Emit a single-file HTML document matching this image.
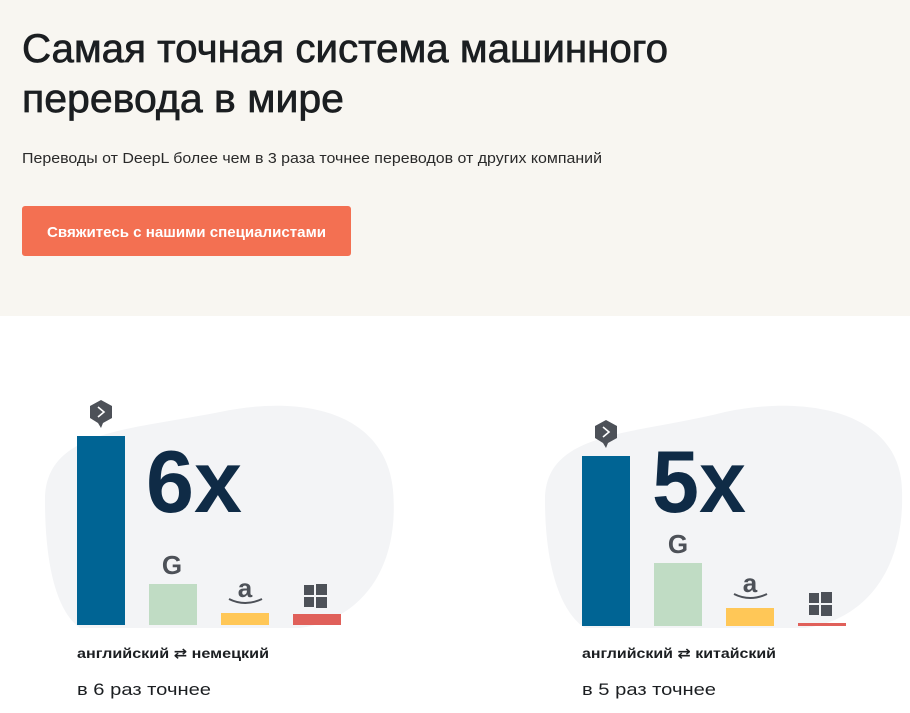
<!DOCTYPE html>
<html><head><meta charset="utf-8"><style>
html,body{margin:0;padding:0;width:910px;height:713px;overflow:hidden;background:#fff}
svg{display:block}
text{font-family:"Liberation Sans","DejaVu Sans",sans-serif}
</style></head><body>
<svg width="910" height="713" viewBox="0 0 910 713" xmlns="http://www.w3.org/2000/svg">
<rect x="0" y="0" width="910" height="316" fill="#f8f6f1"/>
<text x="22" y="62" font-size="40" fill="#1b1e21" stroke="#1b1e21" stroke-width="0.7" textLength="646" lengthAdjust="spacingAndGlyphs">Самая точная система машинного</text>
<text x="22" y="112" font-size="40" fill="#1b1e21" stroke="#1b1e21" stroke-width="0.7" textLength="322" lengthAdjust="spacingAndGlyphs">перевода в мире</text>
<text x="22" y="163" font-size="15" fill="#2a2a2a" textLength="580" lengthAdjust="spacingAndGlyphs">Переводы от DeepL более чем в 3 раза точнее переводов от других компаний</text>
<rect x="22" y="206" width="329" height="50" rx="3" fill="#f37052"/>
<text x="47" y="237" font-size="15" font-weight="bold" fill="#fff" textLength="279" lengthAdjust="spacingAndGlyphs">Свяжитесь с нашими специалистами</text>

<!-- chart 1 -->
<path d="M45 500 C45 430 130 430 220 412 C300 395 385 410 393 490 C400 570 360 620 300 628 L80 628 C55 610 45 560 45 500Z" fill="#f3f4f6"/>
<rect x="77" y="436" width="48" height="189" fill="#006494"/>
<rect x="149" y="584" width="48" height="41" fill="#c0dcc4"/>
<rect x="221" y="613" width="48" height="12" fill="#ffc757"/>
<rect x="293" y="614" width="48" height="11" fill="#e0605a"/>
<g transform="translate(101,412)">
<path d="M0 -12 L11 -6 L11 6 L2 11 L0 16 L-3 11 L-11 6 L-11 -6Z" fill="#4d5158"/>
<path d="M-3 -5 L3 0 L-3 5" stroke="#fff" stroke-width="1.6" fill="none"/>
</g>
<text x="146" y="512" font-size="88" font-weight="bold" fill="#0f2b46" textLength="96" lengthAdjust="spacingAndGlyphs">6x</text>
<text x="172" y="574" font-size="26" font-weight="bold" fill="#4d5158" text-anchor="middle">G</text>
<text x="245" y="597" font-size="26" font-weight="bold" fill="#4d5158" text-anchor="middle">a</text>
<path d="M229 599 Q245 607 262 599" stroke="#4d5158" stroke-width="2" fill="none"/>
<g fill="#4d5158"><rect x="304" y="585" width="10" height="10"/><rect x="316" y="584" width="11" height="11"/><rect x="304" y="597" width="10" height="10"/><rect x="316" y="597" width="11" height="11"/></g>
<text x="77" y="658" font-size="14" font-weight="bold" fill="#1b1e21" textLength="192" lengthAdjust="spacingAndGlyphs">английский ⇄ немецкий</text>
<text x="77" y="695" font-size="17" fill="#1b1e21" textLength="134" lengthAdjust="spacingAndGlyphs">в 6 раз точнее</text>

<!-- chart 2 -->
<path d="M545 500 C545 430 635 435 725 412 C805 395 900 410 902 490 C905 570 865 620 805 628 L585 628 C558 610 545 560 545 500Z" fill="#f3f4f6"/>
<rect x="582" y="456" width="48" height="170" fill="#006494"/>
<rect x="654" y="563" width="48" height="63" fill="#c0dcc4"/>
<rect x="726" y="608" width="48" height="18" fill="#ffc757"/>
<rect x="798" y="623" width="48" height="3" fill="#e0605a"/>
<g transform="translate(606,432)">
<path d="M0 -12 L11 -6 L11 6 L2 11 L0 16 L-3 11 L-11 6 L-11 -6Z" fill="#4d5158"/>
<path d="M-3 -5 L3 0 L-3 5" stroke="#fff" stroke-width="1.6" fill="none"/>
</g>
<text x="652" y="512" font-size="88" font-weight="bold" fill="#0f2b46" textLength="94" lengthAdjust="spacingAndGlyphs">5x</text>
<text x="678" y="553" font-size="26" font-weight="bold" fill="#4d5158" text-anchor="middle">G</text>
<text x="750" y="592" font-size="26" font-weight="bold" fill="#4d5158" text-anchor="middle">a</text>
<path d="M734 594 Q750 602 767 594" stroke="#4d5158" stroke-width="2" fill="none"/>
<g fill="#4d5158"><rect x="809" y="593" width="10" height="10"/><rect x="821" y="592" width="11" height="11"/><rect x="809" y="605" width="10" height="10"/><rect x="821" y="605" width="11" height="11"/></g>
<text x="582" y="658" font-size="14" font-weight="bold" fill="#1b1e21" textLength="194" lengthAdjust="spacingAndGlyphs">английский ⇄ китайский</text>
<text x="582" y="695" font-size="17" fill="#1b1e21" textLength="134" lengthAdjust="spacingAndGlyphs">в 5 раз точнее</text>
</svg>
</body></html>
